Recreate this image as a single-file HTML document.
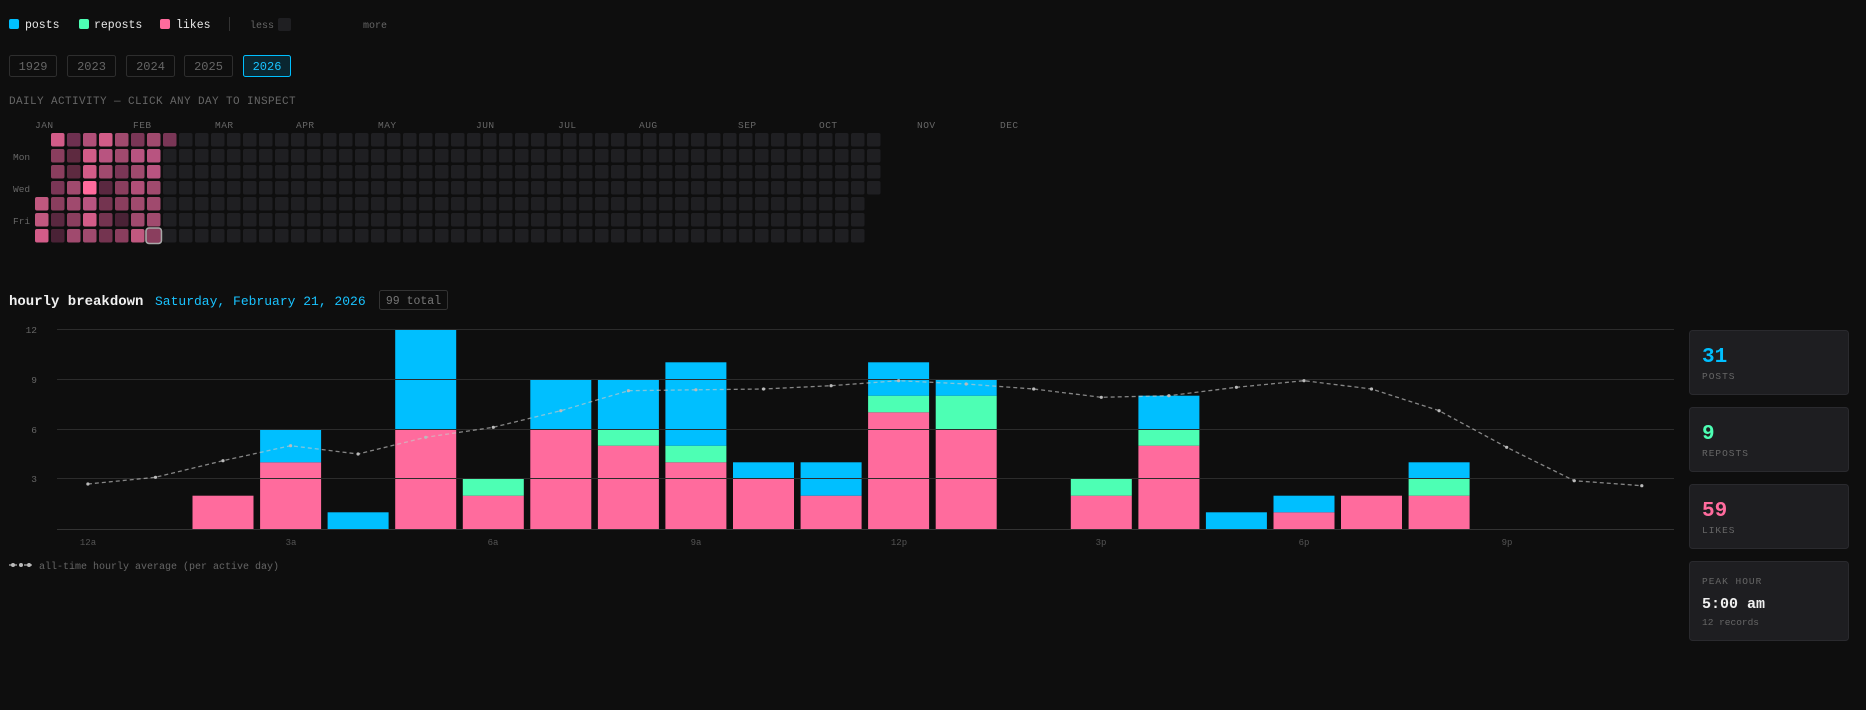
<!DOCTYPE html>
<html><head><meta charset="utf-8"><style>
html,body{margin:0;padding:0;background:#0e0e0e;width:1866px;height:710px;overflow:hidden}
svg{display:block}
text{font-family:"Liberation Mono",monospace}
</style></head><body>
<svg width="1866" height="710" viewBox="0 0 1866 710" xmlns="http://www.w3.org/2000/svg">
<defs>
<pattern id="cells" x="35" y="133" width="16" height="16" patternUnits="userSpaceOnUse">
<rect x="0" y="0" width="13.5" height="13.5" rx="2" fill="#1f1f22"/>
</pattern>
</defs>
<rect width="1866" height="710" fill="#0e0e0e"/>
<!-- top legend -->
<rect x="9" y="19" width="10" height="10" rx="2" fill="#00bfff"/>
<text x="25" y="28" font-size="11.5" fill="#e8e8e8">posts</text>
<rect x="79" y="19" width="10" height="10" rx="2" fill="#4dffb4"/>
<text x="94" y="28" font-size="11.5" fill="#e8e8e8">reposts</text>
<rect x="160" y="19" width="10" height="10" rx="2" fill="#ff6b9d"/>
<text x="176" y="28" font-size="11.5" fill="#e8e8e8">likes</text>
<rect x="229" y="17" width="1" height="14" fill="#333"/>
<text x="250" y="28" font-size="10" fill="#666">less</text>
<rect x="278" y="18" width="13" height="13" rx="2" fill="#1f1f22"/>
<text x="363" y="28" font-size="10" fill="#666">more</text>
<!-- year buttons -->
<g font-size="12" text-anchor="middle">
<rect x="9.5" y="55.5" width="47" height="21" rx="2" fill="none" stroke="#2e2e2e"/><text x="33" y="70" fill="#666">1929</text>
<rect x="67.5" y="55.5" width="48" height="21" rx="2" fill="none" stroke="#2e2e2e"/><text x="91.5" y="70" fill="#666">2023</text>
<rect x="126.5" y="55.5" width="48" height="21" rx="2" fill="none" stroke="#2e2e2e"/><text x="150.5" y="70" fill="#666">2024</text>
<rect x="184.5" y="55.5" width="48" height="21" rx="2" fill="none" stroke="#2e2e2e"/><text x="208.5" y="70" fill="#666">2025</text>
<rect x="243.5" y="55.5" width="47" height="21" rx="2" fill="#0a2630" stroke="#00bfff"/><text x="267" y="70" fill="#19c3ff">2026</text>
</g>
<text x="9" y="104" font-size="11" fill="#666" letter-spacing="0.4">DAILY ACTIVITY — CLICK ANY DAY TO INSPECT</text>
<!-- months -->
<g font-size="9.5" fill="#666" letter-spacing="0.5">
<text x="35" y="128">JAN</text><text x="133" y="128">FEB</text><text x="215" y="128">MAR</text><text x="296" y="128">APR</text>
<text x="378" y="128">MAY</text><text x="476" y="128">JUN</text><text x="558" y="128">JUL</text><text x="639" y="128">AUG</text>
<text x="738" y="128">SEP</text><text x="819" y="128">OCT</text><text x="917" y="128">NOV</text><text x="1000" y="128">DEC</text>
</g>
<g font-size="9.5" fill="#666">
<text x="13" y="160">Mon</text><text x="13" y="192">Wed</text><text x="13" y="224">Fri</text>
</g>
<!-- empty grid -->
<rect x="51" y="133" width="816" height="112" fill="url(#cells)"/>
<rect x="35" y="197" width="16" height="48" fill="url(#cells)"/>
<rect x="867" y="133" width="16" height="64" fill="url(#cells)"/>
<!-- filled cells -->
<g>
<rect x="51" y="133" width="13.5" height="13.5" rx="2" fill="#d25c88"/>
<rect x="67" y="133" width="13.5" height="13.5" rx="2" fill="#6e3050"/>
<rect x="83" y="133" width="13.5" height="13.5" rx="2" fill="#b04f78"/>
<rect x="99" y="133" width="13.5" height="13.5" rx="2" fill="#d25c88"/>
<rect x="115" y="133" width="13.5" height="13.5" rx="2" fill="#a04a6e"/>
<rect x="131" y="133" width="13.5" height="13.5" rx="2" fill="#7a3656"/>
<rect x="147" y="133" width="13.5" height="13.5" rx="2" fill="#a04a6e"/>
<rect x="163" y="133" width="13.5" height="13.5" rx="2" fill="#7a3656"/>
<rect x="51" y="149" width="13.5" height="13.5" rx="2" fill="#8a3e5e"/>
<rect x="67" y="149" width="13.5" height="13.5" rx="2" fill="#5e2a40"/>
<rect x="83" y="149" width="13.5" height="13.5" rx="2" fill="#d25c88"/>
<rect x="99" y="149" width="13.5" height="13.5" rx="2" fill="#b85480"/>
<rect x="115" y="149" width="13.5" height="13.5" rx="2" fill="#a04a6e"/>
<rect x="131" y="149" width="13.5" height="13.5" rx="2" fill="#b85480"/>
<rect x="147" y="149" width="13.5" height="13.5" rx="2" fill="#b85480"/>
<rect x="51" y="165" width="13.5" height="13.5" rx="2" fill="#8a3e5e"/>
<rect x="67" y="165" width="13.5" height="13.5" rx="2" fill="#5e2a40"/>
<rect x="83" y="165" width="13.5" height="13.5" rx="2" fill="#d25c88"/>
<rect x="99" y="165" width="13.5" height="13.5" rx="2" fill="#a04a6e"/>
<rect x="115" y="165" width="13.5" height="13.5" rx="2" fill="#7a3656"/>
<rect x="131" y="165" width="13.5" height="13.5" rx="2" fill="#a04a6e"/>
<rect x="147" y="165" width="13.5" height="13.5" rx="2" fill="#b85480"/>
<rect x="51" y="181" width="13.5" height="13.5" rx="2" fill="#7a3656"/>
<rect x="67" y="181" width="13.5" height="13.5" rx="2" fill="#a04a6e"/>
<rect x="83" y="181" width="13.5" height="13.5" rx="2" fill="#ff6b9d"/>
<rect x="99" y="181" width="13.5" height="13.5" rx="2" fill="#5a2840"/>
<rect x="115" y="181" width="13.5" height="13.5" rx="2" fill="#8a3e5e"/>
<rect x="131" y="181" width="13.5" height="13.5" rx="2" fill="#b04f78"/>
<rect x="147" y="181" width="13.5" height="13.5" rx="2" fill="#a04a6e"/>
<rect x="35" y="197" width="13.5" height="13.5" rx="2" fill="#c0587f"/>
<rect x="51" y="197" width="13.5" height="13.5" rx="2" fill="#8a3e5e"/>
<rect x="67" y="197" width="13.5" height="13.5" rx="2" fill="#a04a6e"/>
<rect x="83" y="197" width="13.5" height="13.5" rx="2" fill="#b85480"/>
<rect x="99" y="197" width="13.5" height="13.5" rx="2" fill="#743450"/>
<rect x="115" y="197" width="13.5" height="13.5" rx="2" fill="#8a3e5e"/>
<rect x="131" y="197" width="13.5" height="13.5" rx="2" fill="#a04a6e"/>
<rect x="147" y="197" width="13.5" height="13.5" rx="2" fill="#a04a6e"/>
<rect x="35" y="213" width="13.5" height="13.5" rx="2" fill="#c0587f"/>
<rect x="51" y="213" width="13.5" height="13.5" rx="2" fill="#5a2840"/>
<rect x="67" y="213" width="13.5" height="13.5" rx="2" fill="#8a3e5e"/>
<rect x="83" y="213" width="13.5" height="13.5" rx="2" fill="#d25c88"/>
<rect x="99" y="213" width="13.5" height="13.5" rx="2" fill="#743450"/>
<rect x="115" y="213" width="13.5" height="13.5" rx="2" fill="#4a2236"/>
<rect x="131" y="213" width="13.5" height="13.5" rx="2" fill="#a04a6e"/>
<rect x="147" y="213" width="13.5" height="13.5" rx="2" fill="#a04a6e"/>
<rect x="35" y="229" width="13.5" height="13.5" rx="2" fill="#d25c88"/>
<rect x="51" y="229" width="13.5" height="13.5" rx="2" fill="#4a2236"/>
<rect x="67" y="229" width="13.5" height="13.5" rx="2" fill="#a04a6e"/>
<rect x="83" y="229" width="13.5" height="13.5" rx="2" fill="#a04a6e"/>
<rect x="99" y="229" width="13.5" height="13.5" rx="2" fill="#743450"/>
<rect x="115" y="229" width="13.5" height="13.5" rx="2" fill="#8a3e5e"/>
<rect x="131" y="229" width="13.5" height="13.5" rx="2" fill="#c0587f"/>
<rect x="146" y="228" width="15.5" height="15.5" rx="3" fill="#8a3e5e" stroke="#a8a8a8" stroke-width="1.6"/>
</g>
<!-- hourly header -->
<text x="9" y="305" font-size="14" font-weight="bold" fill="#f0f0f0">hourly breakdown</text>
<text x="155" y="305" font-size="13" fill="#19c3ff">Saturday, February 21, 2026</text>
<rect x="379.5" y="290.5" width="68" height="19" rx="2" fill="none" stroke="#333"/>
<text x="413.5" y="304" font-size="11.5" fill="#777" text-anchor="middle">99 total</text>
<!-- y labels -->
<g font-size="9.5" fill="#666" text-anchor="end">
<text x="37" y="333">12</text><text x="37" y="383">9</text><text x="37" y="433">6</text><text x="37" y="482">3</text>
</g>
<!-- bars -->
<g>
<rect x="192.5" y="495.7" width="61" height="33.3" fill="#ff6b9d"/>
<rect x="260.1" y="462.3" width="61" height="66.7" fill="#ff6b9d"/><rect x="260.1" y="429" width="61" height="33.3" fill="#00bfff"/>
<rect x="327.6" y="512.3" width="61" height="16.7" fill="#00bfff"/>
<rect x="395.2" y="429" width="61" height="100" fill="#ff6b9d"/><rect x="395.2" y="329" width="61" height="100" fill="#00bfff"/>
<rect x="462.8" y="495.7" width="61" height="33.3" fill="#ff6b9d"/><rect x="462.8" y="479" width="61" height="16.7" fill="#4dffb4"/>
<rect x="530.3" y="429" width="61" height="100" fill="#ff6b9d"/><rect x="530.3" y="379" width="61" height="50" fill="#00bfff"/>
<rect x="597.9" y="445.7" width="61" height="83.3" fill="#ff6b9d"/><rect x="597.9" y="429" width="61" height="16.7" fill="#4dffb4"/><rect x="597.9" y="379" width="61" height="50" fill="#00bfff"/>
<rect x="665.4" y="462.3" width="61" height="66.7" fill="#ff6b9d"/><rect x="665.4" y="445.7" width="61" height="16.6" fill="#4dffb4"/><rect x="665.4" y="362.3" width="61" height="83.4" fill="#00bfff"/>
<rect x="733" y="479" width="61" height="50" fill="#ff6b9d"/><rect x="733" y="462.3" width="61" height="16.7" fill="#00bfff"/>
<rect x="800.6" y="495.7" width="61" height="33.3" fill="#ff6b9d"/><rect x="800.6" y="462.3" width="61" height="33.4" fill="#00bfff"/>
<rect x="868.1" y="412.3" width="61" height="116.7" fill="#ff6b9d"/><rect x="868.1" y="395.7" width="61" height="16.6" fill="#4dffb4"/><rect x="868.1" y="362.3" width="61" height="33.4" fill="#00bfff"/>
<rect x="935.7" y="429" width="61" height="100" fill="#ff6b9d"/><rect x="935.7" y="395.7" width="61" height="33.3" fill="#4dffb4"/><rect x="935.7" y="379" width="61" height="16.7" fill="#00bfff"/>
<rect x="1070.8" y="495.7" width="61" height="33.3" fill="#ff6b9d"/><rect x="1070.8" y="479" width="61" height="16.7" fill="#4dffb4"/>
<rect x="1138.4" y="445.7" width="61" height="83.3" fill="#ff6b9d"/><rect x="1138.4" y="429" width="61" height="16.7" fill="#4dffb4"/><rect x="1138.4" y="395.7" width="61" height="33.3" fill="#00bfff"/>
<rect x="1205.9" y="512.3" width="61" height="16.7" fill="#00bfff"/>
<rect x="1273.5" y="512.3" width="61" height="16.7" fill="#ff6b9d"/><rect x="1273.5" y="495.7" width="61" height="16.6" fill="#00bfff"/>
<rect x="1341" y="495.7" width="61" height="33.3" fill="#ff6b9d"/>
<rect x="1408.6" y="495.7" width="61" height="33.3" fill="#ff6b9d"/><rect x="1408.6" y="479" width="61" height="16.7" fill="#4dffb4"/><rect x="1408.6" y="462.3" width="61" height="16.7" fill="#00bfff"/>
</g>
<!-- gridlines -->
<g stroke="#2c2c2c" stroke-width="1">
<line x1="57" y1="329.5" x2="1674" y2="329.5"/><line x1="57" y1="379.5" x2="1674" y2="379.5"/>
<line x1="57" y1="429.5" x2="1674" y2="429.5"/><line x1="57" y1="478.5" x2="1674" y2="478.5"/>
<line x1="57" y1="529.5" x2="1674" y2="529.5" stroke="#333"/>
</g>
<!-- average line -->
<polyline fill="none" stroke="rgba(200,200,200,0.65)" stroke-width="1.3" stroke-dasharray="4,3"
points="87.9,484 155.5,477.3 223,460.7 290.6,445.7 358.1,454 425.7,437.3 493.3,427.3 560.8,410.7 628.4,390.7 695.9,389.8 763.5,389 831.1,385.7 898.6,380.7 966.2,384 1033.7,389 1101.3,397.3 1168.9,395.7 1236.4,387.3 1304,380.7 1371.5,389 1439.1,410.7 1506.7,447.3 1574.2,480.7 1641.8,485.7"/>
<g fill="#bbb">
<circle cx="87.9" cy="484" r="1.6"/><circle cx="155.5" cy="477.3" r="1.6"/><circle cx="223" cy="460.7" r="1.6"/><circle cx="290.6" cy="445.7" r="1.6"/>
<circle cx="358.1" cy="454" r="1.6"/><circle cx="425.7" cy="437.3" r="1.6"/><circle cx="493.3" cy="427.3" r="1.6"/><circle cx="560.8" cy="410.7" r="1.6"/>
<circle cx="628.4" cy="390.7" r="1.6"/><circle cx="695.9" cy="389.8" r="1.6"/><circle cx="763.5" cy="389" r="1.6"/><circle cx="831.1" cy="385.7" r="1.6"/>
<circle cx="898.6" cy="380.7" r="1.6"/><circle cx="966.2" cy="384" r="1.6"/><circle cx="1033.7" cy="389" r="1.6"/><circle cx="1101.3" cy="397.3" r="1.6"/>
<circle cx="1168.9" cy="395.7" r="1.6"/><circle cx="1236.4" cy="387.3" r="1.6"/><circle cx="1304" cy="380.7" r="1.6"/><circle cx="1371.5" cy="389" r="1.6"/>
<circle cx="1439.1" cy="410.7" r="1.6"/><circle cx="1506.7" cy="447.3" r="1.6"/><circle cx="1574.2" cy="480.7" r="1.6"/><circle cx="1641.8" cy="485.7" r="1.6"/>
</g>
<!-- x labels -->
<g font-size="9" fill="#555" text-anchor="middle">
<text x="88" y="545">12a</text><text x="291" y="545">3a</text><text x="493" y="545">6a</text><text x="696" y="545">9a</text>
<text x="899" y="545">12p</text><text x="1101" y="545">3p</text><text x="1304" y="545">6p</text><text x="1507" y="545">9p</text>
</g>
<!-- legend -->
<line x1="9" y1="565" x2="33" y2="565" stroke="#999" stroke-width="1.5" stroke-dasharray="3,2"/>
<circle cx="13" cy="565" r="2" fill="#bbb"/><circle cx="21" cy="565" r="2" fill="#bbb"/><circle cx="29" cy="565" r="2" fill="#bbb"/>
<text x="39" y="569" font-size="10" fill="#666">all-time hourly average (per active day)</text>
<!-- stat cards -->
<g>
<rect x="1689.5" y="330.5" width="159" height="64" rx="3" fill="#1e1e21" stroke="#2a2a2e"/>
<text x="1702" y="362" font-size="21" font-weight="bold" fill="#00bfff">31</text>
<text x="1702" y="379" font-size="9.5" fill="#666" letter-spacing="1">POSTS</text>
<rect x="1689.5" y="407.5" width="159" height="64" rx="3" fill="#1e1e21" stroke="#2a2a2e"/>
<text x="1702" y="439" font-size="21" font-weight="bold" fill="#4dffb4">9</text>
<text x="1702" y="456" font-size="9.5" fill="#666" letter-spacing="1">REPOSTS</text>
<rect x="1689.5" y="484.5" width="159" height="64" rx="3" fill="#1e1e21" stroke="#2a2a2e"/>
<text x="1702" y="516" font-size="21" font-weight="bold" fill="#ff6b9d">59</text>
<text x="1702" y="533" font-size="9.5" fill="#666" letter-spacing="1">LIKES</text>
<rect x="1689.5" y="561.5" width="159" height="79" rx="3" fill="#1e1e21" stroke="#2a2a2e"/>
<text x="1702" y="584" font-size="9.5" fill="#666" letter-spacing="1">PEAK HOUR</text>
<text x="1702" y="608" font-size="15" font-weight="bold" fill="#f0f0f0">5:00 am</text>
<text x="1702" y="625" font-size="9.5" fill="#666">12 records</text>
</g>
</svg>
</body></html>
